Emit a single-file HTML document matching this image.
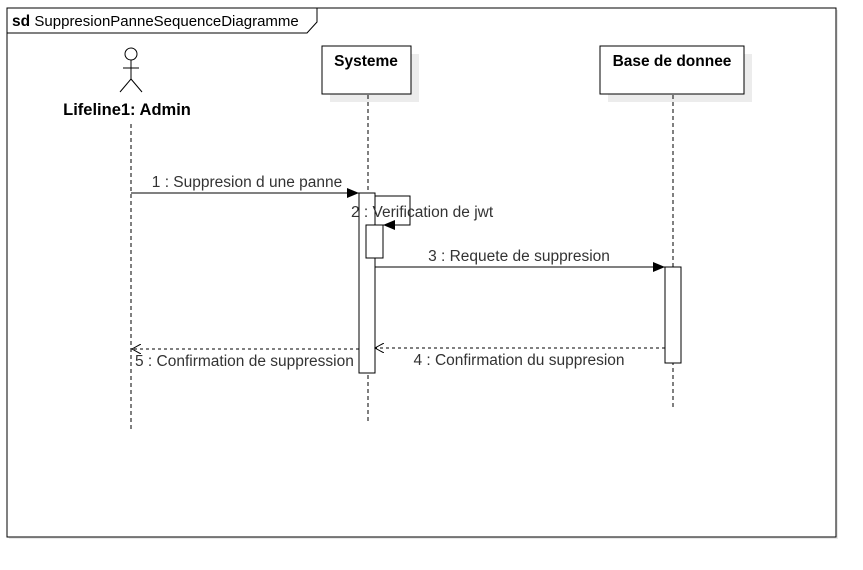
<!DOCTYPE html>
<html><head><meta charset="utf-8"><style>
html,body{margin:0;padding:0;background:#fff;}
svg{display:block;font-family:"Liberation Sans",Arial,sans-serif;}
</style></head><body>
<svg width="863" height="570" viewBox="0 0 863 570" xmlns="http://www.w3.org/2000/svg">
<defs>
<marker id="fa" markerWidth="12" markerHeight="10" refX="12" refY="5" orient="auto" markerUnits="userSpaceOnUse"><path d="M0,0 L12,5 L0,10 Z" fill="#000"/></marker>
<marker id="oa" markerWidth="10" markerHeight="10" refX="9" refY="5" orient="auto" markerUnits="userSpaceOnUse"><path d="M0,0 L9,5 L0,10" fill="none" stroke="#000" stroke-width="1"/></marker>
</defs>
<rect x="9" y="10" width="829" height="529" fill="#e8e8e8"/>
<rect x="7" y="8" width="829" height="529" fill="#fff" stroke="#000" stroke-width="1"/>
<path d="M7,33 L307,33 L317,22 L317,8" fill="none" stroke="#000"/>
<text x="12" y="26" font-size="15.5"><tspan font-weight="bold">sd</tspan> <tspan font-size="15">SuppresionPanneSequenceDiagramme</tspan></text>
<circle cx="131" cy="54" r="6" fill="#fff" stroke="#000"/>
<line x1="131" y1="60" x2="131" y2="79" stroke="#000"/>
<line x1="123" y1="68" x2="139" y2="68" stroke="#000"/>
<line x1="131" y1="79" x2="120" y2="92" stroke="#000"/>
<line x1="131" y1="79" x2="142" y2="92" stroke="#000"/>
<text x="127" y="115" font-size="16.5" font-weight="bold" text-anchor="middle">Lifeline1: Admin</text>
<rect x="330" y="54" width="89" height="48" fill="#ececec"/>
<rect x="322" y="46" width="89" height="48" fill="#fff" stroke="#000"/>
<text x="366" y="66" font-size="15.5" font-weight="bold" text-anchor="middle">Systeme</text>
<rect x="608" y="54" width="144" height="48" fill="#ececec"/>
<rect x="600" y="46" width="144" height="48" fill="#fff" stroke="#000"/>
<text x="672" y="66" font-size="15.5" font-weight="bold" text-anchor="middle">Base de donnee</text>
<g stroke="#000" stroke-dasharray="4,3">
<line x1="131" y1="124" x2="131" y2="432"/>
<line x1="368" y1="95" x2="368" y2="422"/>
<line x1="673" y1="95" x2="673" y2="410"/>
</g>
<rect x="359" y="193" width="16" height="180" fill="#fff" stroke="#000"/>
<rect x="366" y="225" width="17" height="33" fill="#fff" stroke="#000"/>
<rect x="665" y="267" width="16" height="96" fill="#fff" stroke="#000"/>
<line x1="131" y1="193" x2="359" y2="193" stroke="#000" marker-end="url(#fa)"/>
<text x="247" y="187" font-size="15.5" fill="#333" text-anchor="middle">1 : Suppresion d une panne</text>
<polyline points="375,196 410,196 410,225 383,225" fill="none" stroke="#000" marker-end="url(#fa)"/>
<text x="351" y="217" font-size="15.5" fill="#333">2 : Verification de jwt</text>
<line x1="375" y1="267" x2="665" y2="267" stroke="#000" marker-end="url(#fa)"/>
<text x="519" y="261" font-size="15.5" fill="#333" text-anchor="middle">3 : Requete de suppresion</text>
<line x1="665" y1="348" x2="375" y2="348" stroke="#000" stroke-dasharray="3,3" marker-end="url(#oa)"/>
<text x="519" y="365" font-size="15.5" fill="#333" text-anchor="middle">4 : Confirmation du suppresion</text>
<line x1="359" y1="349" x2="132" y2="349" stroke="#000" stroke-dasharray="3,3" marker-end="url(#oa)"/>
<text x="135" y="366" font-size="15.5" fill="#333">5 : Confirmation de suppression</text>
</svg>
</body></html>
